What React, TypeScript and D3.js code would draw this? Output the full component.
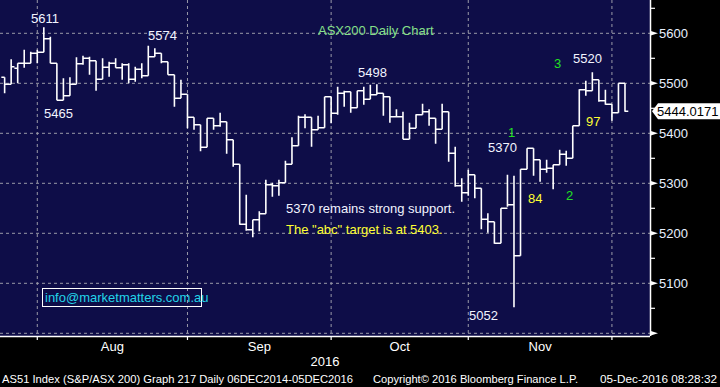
import React from 'react';
import * as d3 from 'd3';

// ASX200 daily bars, 25 Jul 2016 .. 05 Dec 2016
const opens = [
  5512, 5498, 5530, 5540, 5540, 5560, 5562, 5589, 5540, 5466,
  5475, 5498, 5539, 5550, 5545, 5508, 5532, 5540, 5531, 5537,
  5508, 5528, 5515, 5553, 5560, 5543, 5517, 5470, 5478, 5432,
  5417, 5372, 5430, 5415, 5423, 5387, 5338, 5218, 5207, 5227,
  5239, 5297, 5295, 5301, 5338, 5375, 5432, 5432, 5407, 5411,
  5473, 5440, 5480, 5483, 5451, 5485, 5468, 5477, 5480, 5473,
  5433, 5433, 5388, 5410, 5437, 5443, 5430, 5408, 5443, 5360,
  5295, 5281, 5317, 5290, 5228, 5223, 5180, 5250, 5257, 5155,
  5328, 5370, 5347, 5328, 5330, 5337, 5358, 5350, 5415, 5487,
  5485, 5507, 5465, 5458, 5441, 5500,
];
const highs = [
  5512, 5548, 5540, 5567, 5563, 5567, 5612, 5593, 5540, 5510,
  5512, 5552, 5555, 5553, 5545, 5550, 5543, 5550, 5540, 5540,
  5533, 5540, 5575, 5570, 5560, 5543, 5517, 5507, 5478, 5432,
  5417, 5430, 5430, 5441, 5423, 5387, 5338, 5277, 5227, 5244,
  5307, 5301, 5307, 5345, 5392, 5435, 5438, 5432, 5435, 5473,
  5473, 5493, 5485, 5483, 5485, 5493, 5497, 5498, 5480, 5473,
  5448, 5443, 5421, 5438, 5459, 5448, 5430, 5459, 5443, 5373,
  5310, 5327, 5317, 5290, 5240, 5223, 5250, 5317, 5315, 5328,
  5370, 5370, 5347, 5347, 5337, 5367, 5365, 5415, 5488, 5505,
  5522, 5507, 5487, 5458, 5500, 5500,
];
const lows = [
  5480, 5498, 5500, 5531, 5540, 5540, 5562, 5540, 5466, 5466,
  5475, 5498, 5537, 5517, 5485, 5508, 5513, 5531, 5507, 5500,
  5503, 5510, 5515, 5553, 5540, 5517, 5453, 5470, 5410, 5407,
  5364, 5372, 5407, 5413, 5359, 5333, 5217, 5205, 5192, 5204,
  5239, 5273, 5275, 5301, 5338, 5375, 5410, 5373, 5407, 5411,
  5420, 5437, 5453, 5441, 5451, 5457, 5468, 5477, 5435, 5421,
  5433, 5388, 5388, 5410, 5437, 5415, 5379, 5408, 5343, 5293,
  5263, 5275, 5270, 5208, 5201, 5179, 5180, 5253, 5052, 5155,
  5328, 5315, 5303, 5321, 5288, 5337, 5335, 5350, 5415, 5475,
  5485, 5463, 5457, 5425, 5441, 5443,
];
const closes = [
  5498, 5533, 5540, 5540, 5560, 5562, 5589, 5540, 5466, 5475,
  5498, 5539, 5550, 5545, 5508, 5532, 5540, 5531, 5537, 5508,
  5528, 5515, 5553, 5560, 5543, 5517, 5470, 5478, 5432, 5417,
  5372, 5430, 5415, 5423, 5387, 5338, 5218, 5207, 5227, 5239,
  5297, 5295, 5301, 5338, 5375, 5432, 5432, 5407, 5411, 5473,
  5440, 5480, 5483, 5451, 5485, 5468, 5477, 5480, 5473, 5433,
  5433, 5388, 5410, 5437, 5443, 5430, 5408, 5443, 5360, 5295,
  5281, 5317, 5290, 5228, 5223, 5180, 5250, 5257, 5155, 5328,
  5370, 5347, 5328, 5330, 5337, 5358, 5350, 5415, 5487, 5485,
  5507, 5465, 5458, 5441, 5500, 5444,
];

// month boundaries (bar index of first trading day) and labels
const monthStarts = [5, 28, 50, 71, 93];
const monthLabels = ['Aug', 'Sep', 'Oct', 'Nov'];
const yTicks = [5000, 5100, 5200, 5300, 5400, 5500, 5600];
const yMinor = [5050, 5150, 5250, 5350, 5450, 5550, 5650];
const lastPrice = '5444.0171';

const W = 720;
const H = 387;
const plotR = 650;
const plotB = 336;
const font = '"Liberation Sans", Arial, sans-serif';

export default function App() {
  const x = d3.scaleLinear().domain([-0.71, 98.83]).range([0, plotR]);
  const y = d3.scaleLinear().domain([5000, 5600]).range([333.3, 33.3]);

  const bars = closes.map((c, i) => {
    const xi = x(i);
    return `M${xi - 3.3},${y(opens[i])}H${xi}M${xi},${y(highs[i])}V${y(lows[i])}M${xi},${y(c)}H${xi + 3.3}`;
  });

  const gridColor = '#9a9aa8';

  return (
    <svg width={W} height={H} style={{ position: 'absolute', left: 0, top: 0, display: 'block' }} fontFamily={font}>
      <rect width={W} height={H} fill="#000" />
      <rect width={plotR} height={plotB} fill="#0e0d48" />

      {/* grid */}
      {yTicks.map(t => (
        <line key={'h' + t} x1={0} x2={plotR} y1={y(t)} y2={y(t)} stroke={gridColor} strokeWidth={1} strokeDasharray="3,3" />
      ))}
      {monthStarts.map(m => (
        <line key={'v' + m} x1={x(m)} x2={x(m)} y1={0} y2={plotB} stroke={gridColor} strokeWidth={1} strokeDasharray="3,3" />
      ))}

      {/* bars */}
      <path d={bars.join('')} stroke="#fff" strokeWidth={1.6} fill="none" />

      {/* annotations */}
      <g fontSize={13} fill="#f2f4ff">
        <text x={31} y={23}>5611</text>
        <text x={44} y={118}>5465</text>
        <text x={148} y={40}>5574</text>
        <text x={358} y={77}>5498</text>
        <text x={573} y={63}>5520</text>
        <text x={488} y={152}>5370</text>
        <text x={469} y={320}>5052</text>
        <text x={286} y={213}>5370 remains strong support.</text>
      </g>
      <text x={318} y={35} fontSize={13} fill="#86e08a">ASX200 Daily Chart</text>
      <g fontSize={13} fill="#ffff33">
        <text x={586} y={126}>97</text>
        <text x={528} y={203}>84</text>
        <text x={286} y={234}>The "abc" target is at 5403.</text>
      </g>
      <g fontSize={13} fill="#22e022">
        <text x={554} y={68}>3</text>
        <text x={508} y={137}>1</text>
        <text x={566} y={200}>2</text>
      </g>
      <rect x={42.5} y={288.5} width={159} height={18} fill="none" stroke="#fff" strokeWidth={1} />
      <text x={45} y={302} fontSize={13} fill="#22d4e8">info@marketmatters.com.au</text>

      {/* right axis */}
      <line x1={plotR + 0.5} x2={plotR + 0.5} y1={0} y2={plotB} stroke="#fff" strokeWidth={1.5} />
      {yMinor.map(t => (
        <line key={'m' + t} x1={plotR} x2={plotR + 5} y1={y(t)} y2={y(t)} stroke="#fff" strokeWidth={1.2} />
      ))}
      {yTicks.map(t => (
        <g key={'t' + t}>
          <path d={`M${plotR},${y(t) - 2.5}L${plotR + 8},${y(t)}L${plotR},${y(t) + 2.5}Z`} fill="#fff" />
          {t > 5000 && (
            <text x={659} y={y(t) + 5} fontSize={13} fill="#e8f0ff">{t}</text>
          )}
        </g>
      ))}
      <path
        d={`M${plotR + 2},${y(5444)}L${plotR + 8},${y(5444) - 8}H${W}V${y(5444) + 8}H${plotR + 8}Z`}
        fill="#fff"
      />
      <text x={657} y={y(5444) + 5} fontSize={13} fill="#000">{lastPrice}</text>

      {/* bottom axis */}
      <line x1={0} x2={plotR} y1={plotB + 0.5} y2={plotB + 0.5} stroke="#fff" strokeWidth={1.5} />
      {monthStarts.map(m => (
        <line key={'bt' + m} x1={x(m)} x2={x(m)} y1={plotB} y2={plotB + 4} stroke="#fff" strokeWidth={1.2} />
      ))}
      {monthLabels.map((lab, i) => (
        <text key={lab} x={(x(monthStarts[i]) + x(monthStarts[i + 1])) / 2} y={351} fontSize={13} fill="#fff" textAnchor="middle">
          {lab}
        </text>
      ))}
      <text x={325} y={366} fontSize={13} fill="#fff" textAnchor="middle">2016</text>

      {/* footer */}
      <g fontSize={11.5} fill="#fff" style={{ whiteSpace: 'pre' }}>
        <text x={2} y={383} textLength={351} lengthAdjust="spacingAndGlyphs">
          {'AS51 Index (S&P/ASX 200) Graph 217  Daily 06DEC2014-05DEC2016'}
        </text>
        <text x={373} y={383} textLength={205} lengthAdjust="spacingAndGlyphs">
          Copyright© 2016 Bloomberg Finance L.P.
        </text>
        <text x={600} y={383} textLength={117} lengthAdjust="spacingAndGlyphs">
          05-Dec-2016 08:28:32
        </text>
      </g>
    </svg>
  );
}
